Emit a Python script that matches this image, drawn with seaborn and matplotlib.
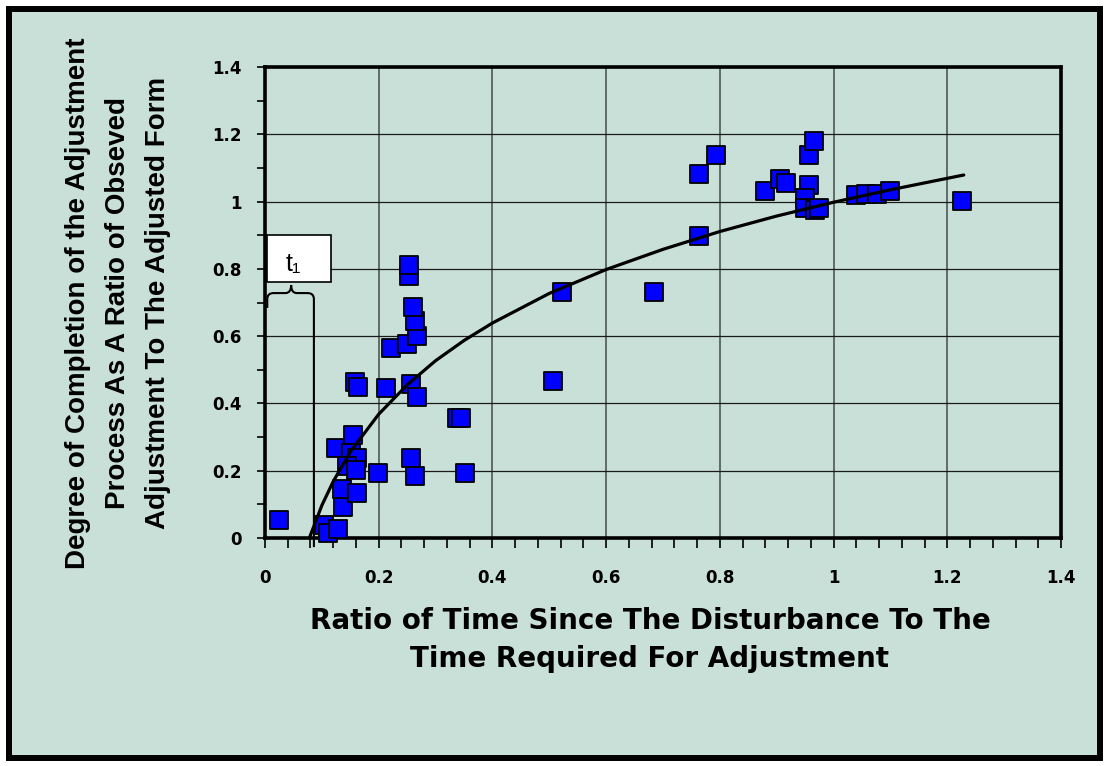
import matplotlib
matplotlib.use("Agg")
import matplotlib.pyplot as plt
from matplotlib.patches import Rectangle, PathPatch
from matplotlib.path import Path
from matplotlib.ticker import MultipleLocator
import pandas as pd
import seaborn as sns

# Observed adjustment ratios
x_obs = [0.025, 0.104, 0.110, 0.128, 0.138, 0.135, 0.161, 0.124, 0.155, 0.152,
         0.161, 0.145, 0.160, 0.198, 0.257, 0.264, 0.159, 0.163, 0.212, 0.257,
         0.268, 0.222, 0.250, 0.268, 0.264, 0.261, 0.253, 0.253, 0.338, 0.345,
         0.352, 0.523, 0.507, 0.685, 0.763, 0.763, 0.794, 0.879, 0.906, 0.917,
         0.956, 0.956, 0.966, 0.949, 0.949, 0.968, 0.974, 1.039, 1.057, 1.076,
         1.099, 1.226]
y_obs = [0.054, 0.039, 0.014, 0.026, 0.093, 0.145, 0.135, 0.267, 0.306, 0.252,
         0.237, 0.214, 0.202, 0.192, 0.237, 0.185, 0.463, 0.450, 0.447, 0.457,
         0.420, 0.566, 0.577, 0.600, 0.645, 0.686, 0.779, 0.812, 0.358, 0.358,
         0.192, 0.732, 0.468, 0.732, 0.899, 1.082, 1.139, 1.032, 1.066, 1.054,
         1.049, 1.139, 1.180, 1.010, 0.982, 0.975, 0.980, 1.020, 1.023, 1.023,
         1.031, 1.002]

# Trend curve
x_fit = [0.078, 0.10, 0.12, 0.15, 0.20, 0.25, 0.30, 0.35, 0.40, 0.50, 0.60,
         0.70, 0.80, 0.90, 1.00, 1.10, 1.229]
y_fit = [0.000, 0.097, 0.168, 0.256, 0.368, 0.455, 0.527, 0.587, 0.639, 0.727,
         0.798, 0.858, 0.911, 0.957, 0.998, 1.035, 1.079]

x_ticks = [0, 0.2, 0.4, 0.6, 0.8, 1.0, 1.2, 1.4]
x_tick_labels = ["0", "0.2", "0.4", "0.6", "0.8", "1", "1.2", "1.4"]
y_ticks = [0, 0.2, 0.4, 0.6, 0.8, 1.0, 1.2, 1.4]
y_tick_labels = ["0", "0.2", "0.4", "0.6", "0.8", "1", "1.2", "1.4"]

x_label = "Ratio of Time Since The Disturbance To The\nTime Required For Adjustment"
y_label = ("Degree of Completion of the Adjustment\n"
           "Process As A Ratio of Obseved\n"
           "Adjustment To The Adjusted Form")

obs = pd.DataFrame({"x": x_obs, "y": y_obs})
fit = pd.DataFrame({"x": x_fit, "y": y_fit})

sns.set_style("white")
plt.rcParams["font.family"] = ["Liberation Sans", "DejaVu Sans"]
plt.rcParams["font.weight"] = "bold"
plt.rcParams["text.color"] = "black"
plt.rcParams["axes.labelcolor"] = "black"
plt.rcParams["xtick.color"] = "black"
plt.rcParams["ytick.color"] = "black"

BG = "#c9e0d9"
W, H = 1108, 766
fig = plt.figure(figsize=(W / 100, H / 100), dpi=100, facecolor="white")

# framed panel behind everything
fig.patches.append(Rectangle((9 / W, 1 - 758 / H), (1100 - 9) / W, (758 - 9) / H,
                             transform=fig.transFigure, facecolor=BG,
                             edgecolor="black", linewidth=4.3, zorder=-5))

ax = fig.add_axes([265 / W, 1 - 538 / H, (1061 - 265) / W, (538 - 67) / H])
ax.set_facecolor(BG)
ax.set_xlim(0, 1.4)
ax.set_ylim(0, 1.4)

tick_font = dict(family="DejaVu Sans", size=12, weight="bold", color="black")
ax.set_xticks(x_ticks)
ax.set_xticklabels(x_tick_labels, fontdict=tick_font)
ax.set_yticks(y_ticks)
ax.set_yticklabels(y_tick_labels, fontdict=tick_font)
ax.xaxis.set_minor_locator(MultipleLocator(0.04))
ax.yaxis.set_minor_locator(MultipleLocator(0.1))
ax.tick_params(axis="x", which="both", direction="out", length=7, width=1.2,
               pad=15, colors="black", bottom=True)
ax.tick_params(axis="y", which="both", direction="out", length=6, width=1.2,
               pad=11, colors="black", left=True)

for s in ax.spines.values():
    s.set_color("black")
    s.set_linewidth(2.6)

ax.xaxis.grid(True, which="major", color="#56625e", linewidth=1.3)
ax.yaxis.grid(True, which="major", color="#1a1a1a", linewidth=0.9)
ax.set_axisbelow(True)

sns.scatterplot(data=obs, x="x", y="y", ax=ax, marker="s", s=170,
                color="#0000ff", edgecolor="black", linewidth=1.3,
                zorder=5, clip_on=False, legend=False)
sns.lineplot(data=fit, x="x", y="y", ax=ax, color="black", linewidth=2.3,
             zorder=6, sort=False, estimator=None)
ax.set_xlabel("")
ax.set_ylabel("")

# t1 lag marker: label box, brace and drop line
ax.add_patch(Rectangle((0.003, 0.760), 0.113, 0.140, facecolor="white",
                       edgecolor="black", linewidth=1.2, zorder=7, clip_on=False))
ax.text(0.049, 0.815, "t\u2081", ha="center", va="center", fontsize=18,
        fontweight="normal", family=["Liberation Sans", "DejaVu Sans"],
        zorder=8)
verts = [(0.004, 0.684), (0.004, 0.710), (0.004, 0.728), (0.015, 0.728),
         (0.036, 0.728), (0.046, 0.728), (0.046, 0.752),
         (0.046, 0.728), (0.056, 0.728), (0.075, 0.728),
         (0.086, 0.728), (0.086, 0.710), (0.086, -0.027)]
codes = [Path.MOVETO, Path.LINETO, Path.CURVE3, Path.CURVE3,
         Path.LINETO, Path.CURVE3, Path.CURVE3,
         Path.CURVE3, Path.CURVE3, Path.LINETO,
         Path.CURVE3, Path.CURVE3, Path.LINETO]
ax.add_patch(PathPatch(Path(verts, codes), facecolor="none", edgecolor="black",
                       linewidth=1.5, zorder=4, clip_on=False))

fig.text(650 / W, 1 - 640 / H, x_label, ha="center", va="center",
         fontsize=20, fontweight="bold", family="DejaVu Sans", linespacing=1.42)
fig.text(118 / W, 1 - 303 / H, y_label, ha="center", va="center", rotation=90,
         fontsize=20, fontweight="bold", linespacing=1.7,
         multialignment="center")

fig.savefig("out.png", dpi=100, facecolor="white")
